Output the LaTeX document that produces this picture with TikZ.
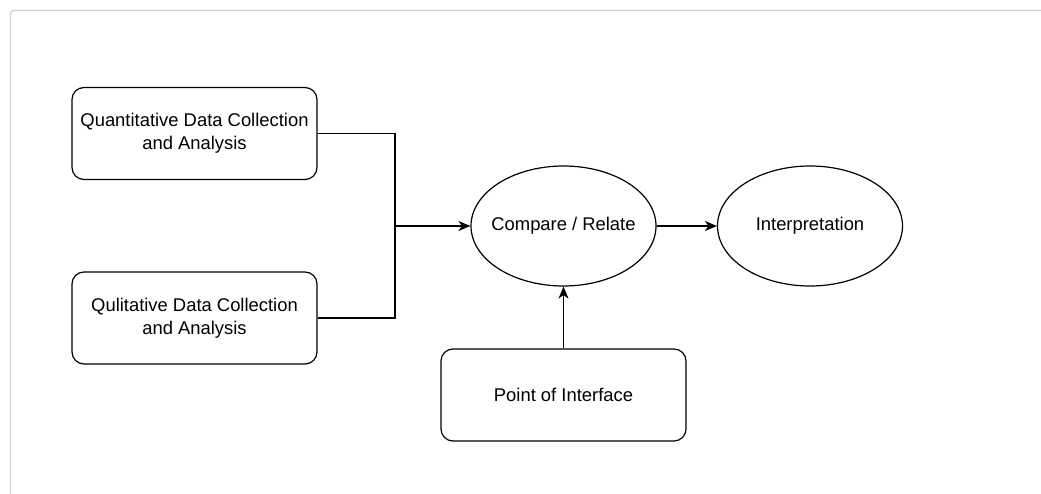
\documentclass[tikz,border=0pt]{standalone}
\usepackage{fontspec}
\setmainfont{Liberation Sans}
\usetikzlibrary{arrows.meta,shapes.geometric}
\begin{document}
\begin{tikzpicture}[x=1pt,y=-1pt,
  box/.style={draw=black,line width=1.2pt,rounded corners=12pt,minimum width=245pt,minimum height=92pt,align=center,inner sep=0pt,font=\fontsize{18.4}{23}\selectfont},
  oval/.style={draw=black,line width=1.2pt,ellipse,minimum width=185pt,minimum height=120pt,inner sep=0pt,font=\fontsize{18.4}{23}\selectfont},
  conn/.style={line width=1.2pt,-{Stealth[length=12pt,width=10pt,inset=3.5pt]}},
  plain/.style={line width=1.2pt}]
\useasboundingbox (0,0) rectangle (1041,494);
\draw[color={rgb,255:red,208;green,208;blue,208},line width=1.3pt,rounded corners=3pt] (1041,10.5) -- (10.5,10.5) -- (10.5,494);
\node[box] (quant) at (194.5,133.5) {Quantitative Data Collection\\and Analysis};
\node[box] (qual) at (194.5,318) {Qulitative Data Collection\\and Analysis};
\node[oval] (cmp) at (563.5,226) {\makebox[0pt]{Compare / Relate}};
\node[oval] (interp) at (810,226) {\makebox[0pt]{Interpretation}};
\node[box] (poi) at (563.5,395) {Point of Interface};
\coordinate (j) at (395,226);
\draw[plain] (quant.east) -| (j);
\draw[plain] (qual.east) -| (j);
\draw[conn] (j) -- (cmp.west);
\draw[conn] (cmp.east) -- (interp.west);
\draw[conn] (poi.north) -- (cmp.south);
\end{tikzpicture}
\end{document}
